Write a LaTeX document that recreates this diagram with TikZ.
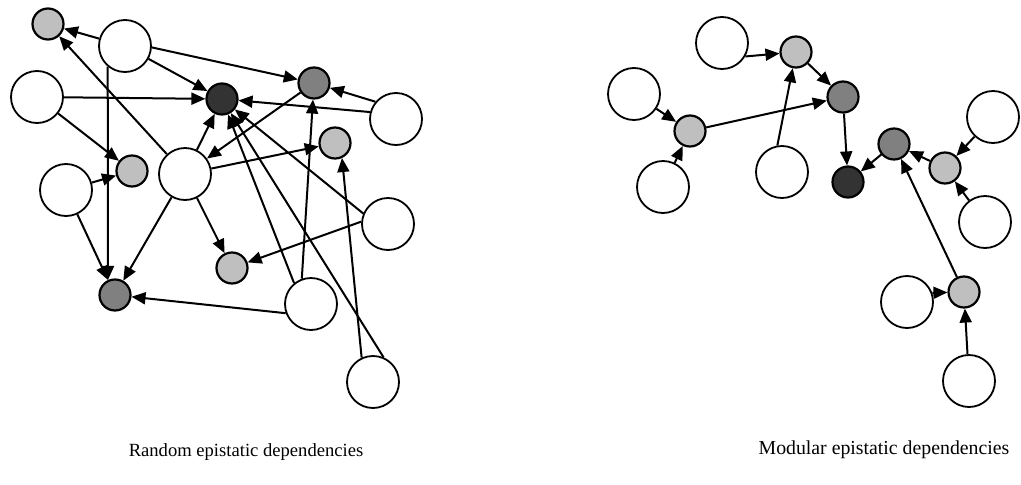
\documentclass[tikz,border=0pt]{standalone}
\usepackage{fontspec}
\setmainfont{Liberation Serif}
\usetikzlibrary{positioning}
\usetikzlibrary{arrows.meta}

\tikzset{free/.style = {draw, circle, fill=white, line width=1.8pt, minimum size=52pt, inner sep=0pt},
         gene/.style = {draw, circle, line width=2.2pt, minimum size=31pt, inner sep=0pt},
         lgene/.style = {gene, fill=black!25},
         mgene/.style = {gene, fill=black!50},
         dgene/.style = {gene, fill=black!80},
         dep/.style = {-{Triangle[length=14pt,width=12pt]}, line width=2pt},
         caption/.style = {font=\fontsize{18.6}{22}\selectfont}}

\begin{document}
\begin{tikzpicture}[x=1pt, y=-1pt]
            \useasboundingbox (0,0) rectangle (1021,485);
            \node[lgene](g1) at (48,24){};
            \node[dgene](d) at (222,99){};
            \node[lgene](g2) at (132,171){};
            \node[mgene](m1) at (314,83){};
            \node[lgene](g3) at (335,143){};
            \node[mgene](m2) at (115,295){};
            \node[lgene](g4) at (232,268){};
            \node[free](w1) at (125,46){};
            \node[free](w2) at (37,97){};
            \node[free](w3) at (66,190){};
            \node[free](w4) at (185,174){};
            \node[free](w5) at (396,119){};
            \node[free](w6) at (388,224){};
            \node[free](w7) at (311,304){};
            \node[free](w8) at (373,382){};
            \draw[dep] (w1) -- (g1);
            \draw[dep] (w1) -- (d);
            \draw[dep] (w1.-3) -- (m1);
            \draw[dep] (w1.-130) -- (m2.115);
            \draw[dep] (w2) -- (d);
            \draw[dep] (w2) -- (g2);
            \draw[dep] (w3) -- (g2);
            \draw[dep] (w3) -- (m2);
            \draw[dep] (w4) -- (g1);
            \draw[dep] (w4) -- (d);
            \draw[dep] (m1) -- (w4);
            \draw[dep] (w4) -- (g3);
            \draw[dep] (w4) -- (m2);
            \draw[dep] (w4) -- (g4);
            \draw[dep] (w5.140) -- (m1);
            \draw[dep] (w5.165) -- (d);
            \draw[dep] (w6.157) -- (d);
            \draw[dep] (w6.175) -- (g4);
            \draw[dep] (w7.129) -- (d);
            \draw[dep] (w7.110) -- (m1);
            \draw[dep] (w7.200) -- (m2);
            \draw[dep] (w8.67) -- (d);
            \draw[dep] (w8.115) -- (g3.-65);

            \node[free](r1) at (722,43){};
            \node[lgene](a1) at (796,52){};
            \node[free](r2) at (634,94){};
            \node[lgene](a2) at (690,131){};
            \node[free](r3) at (663,187){};
            \node[free](r4) at (782,172){};
            \node[mgene](n1) at (843,97){};
            \node[dgene](e) at (848,182){};
            \node[mgene](n2) at (894,144){};
            \node[lgene](a3) at (945,168){};
            \node[free](r5) at (993,117){};
            \node[free](r6) at (985,222){};
            \node[lgene](a4) at (964,292){};
            \node[free](r7) at (907,302){};
            \node[free](r8) at (969,381){};
            \draw[dep] (r1.-30) -- (a1);
            \draw[dep] (r4.100) -- (a1);
            \draw[dep] (a1) -- (n1);
            \draw[dep] (r2) -- (a2);
            \draw[dep] (r3) -- (a2);
            \draw[dep] (a2) -- (n1);
            \draw[dep] (n1) -- (e);
            \draw[dep] (n2) -- (e);
            \draw[dep] (a3) -- (n2);
            \draw[dep] (r5) -- (a3);
            \draw[dep] (r6) -- (a3);
            \draw[dep] (a4) -- (n2);
            \draw[dep] (r7.20) -- (a4);
            \draw[dep] (r8) -- (a4);

            \node[caption](random) at (246,452){Random epistatic dependencies};
            \node[caption, font=\fontsize{19.8}{23}\selectfont](modular) at (884,450){Modular epistatic dependencies};
        \end{tikzpicture}
\end{document}
